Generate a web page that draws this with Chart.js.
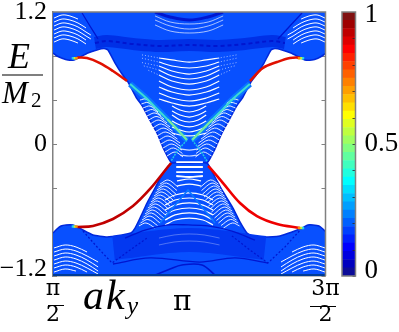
<!DOCTYPE html>
<html>
<head>
<meta charset="utf-8">
<script src="https://cdn.jsdelivr.net/npm/chart.js@4"></script>
<style>
body { margin: 0; background: #fff; }
#wrap { position: relative; width: 399px; height: 332px; }
canvas { position: absolute; top: 0; }
#bandChart { left: 0; }
#colorBar { left: 300px; }
</style>
</head>
<body>
<div id="wrap">
<canvas id="bandChart" width="399" height="332"></canvas>
<canvas id="colorBar" width="99" height="332"></canvas>
</div>
<script>
// x is a k_y in degrees (90 = pi/2, 270 = 3pi/2), y is E / M2
var xTicks = [90, 180, 270];
var yTicks = [-1.2, -0.8, -0.4, 0, 0.4, 0.8, 1.2];
var colorTicks = [0, 0.1, 0.2, 0.3, 0.4, 0.5, 0.6, 0.7, 0.8, 0.9, 1];

// outline of the continuum
var topEdgeX = [90, 92.6, 96, 99.9, 103.9, 107.8, 113, 119, 123.7, 126.3, 131, 135.6, 139.5, 144.8, 149.4, 154, 158.7, 163.1, 168.4, 180, 191.7, 197, 201.6, 206.3, 210.9, 215.5, 220.8, 224.7, 229.4, 234, 236.6, 241.3, 247.2, 252.5, 256.4, 261, 265, 267.7, 270.3];
var topEdgeY = [.827, .8, .78, .764, .764, .79, .827, .855, .868, .855, .736, .636, .564, .427, .336, .218, .1, -.045, -.173, -.173, -.173, -.045, .1, .218, .336, .427, .564, .636, .736, .855, .868, .855, .827, .79, .764, .764, .78, .8, .827];
var bottomEdgeX = [90, 92.6, 95.3, 98.6, 103.2, 106.5, 109.8, 116.4, 125.7, 135.6, 141.5, 144.2, 147.5, 152.1, 157.4, 162, 168.6, 180, 191.7, 197, 201.6, 208.9, 213.5, 218.1, 221.4, 228.7, 239.9, 247.9, 254.5, 258.4, 261.7, 265.7, 268.3, 270.3];
var bottomEdgeY = [-.809, -.773, -.745, -.736, -.736, -.755, -.782, -.827, -.845, -.827, -.809, -.764, -.673, -.536, -.4, -.282, -.173, -.173, -.173, -.3, -.418, -.582, -.709, -.809, -.836, -.845, -.836, -.8, -.764, -.736, -.736, -.745, -.773, -.8];

// edge states
var edgeTopLeftX = [105.9, 112.5, 121, 129.6, 138.9];
var edgeTopLeftY = [.786, .782, .736, .664, .573];
var edgeTopRightX = [220.1, 228.7, 238, 246.5, 253.1];
var edgeTopRightY = [.573, .691, .745, .782, .786];
var edgeBottomLeftX = [105.9, 116.4, 129.6, 142.8, 154.1, 165.3, 168];
var edgeBottomLeftY = [-.755, -.745, -.682, -.564, -.409, -.218, -.173];
var edgeBottomRightX = [192.4, 193.7, 202.3, 213.5, 224.7, 238, 253.1];
var edgeBottomRightY = [-.2, -.218, -.355, -.536, -.655, -.727, -.764];
var onsetX = [103.2, 104.5, 105.5, 255.1, 253.8, 252.5, 103.2, 104.5, 105.5, 255.1, 253.8, 252.5];
var onsetY = [.78, .78, .78, .78, .78, .78, -.75, -.75, -.75, -.764, -.764, -.764];
var onsetColors = ['#20d0f0', '#c0f040', '#ff9000', '#20d0f0', '#c0f040', '#ff9000', '#20d0f0', '#c0f040', '#ff9000', '#20d0f0', '#c0f040', '#ff9000'];

// white gaps between the bulk bands, one list per corner or wedge
var cornerTopLeftX = [90.7, 96, 101.2, 106.5, 111.8, 115];
var cornerTopRight_X = [269.7, 264.4, 259.1, 253.9, 248.6, 245];
var cornerTopRows = [
  [1.145, 1.173, 1.164, 1.136],
  [1.109, 1.136, 1.127, 1.1, 1.055],
  [1.073, 1.1, 1.091, 1.064, 1.018, .991],
  [1.036, 1.064, 1.055, 1.027, .982, .955],
  [1, 1.027, 1.018, .991, .945],
  [.964, .991, .982, .955, .909],
  [.927, .955, .945, .918]
];
var cornerBottomLeftX = [90.7, 98, 105.2, 112.5, 119.8, 127];
var cornerBottomRightX = [269.7, 262.4, 255.2, 247.9, 240.6, 233.3];
var cornerBottomRows = [
  [-.945, -.918, -.936, -.982],
  [-.982, -.955, -.973, -1.018, -1.073],
  [-1.018, -.991, -1.009, -1.055, -1.118],
  [-1.055, -1.027, -1.045, -1.091, -1.155],
  [-1.091, -1.064, -1.082, -1.127, -1.182],
  [-1.127, -1.1, -1.118, -1.164],
  [-1.164, -1.136, -1.155]
];
var faintTopX = [157.4, 167.4, 180, 192.5, 202.4];
var faintTopRows = [
  [1.164, 1.109, 1.091, 1.109, 1.164],
  [1.127, 1.073, 1.045, 1.073, 1.127],
  [1.082, 1.027, 1.009, 1.027, 1.082]
];
var coneTopX = [160, 168.6, 180, 191.2, 199.8];
var coneTopRows = [
  [.782, .764, .745, .764, .782],
  [.745, .709, .691, .709, .745],
  [.709, .664, .636, .664, .709],
  [.673, .618, .591, .618, .673],
  [.627, .573, .545, .573, .627],
  [.573, .518, .491, .518, .573],
  [.518, .473, .445, .473, .518],
  [.464, .418, .391, .418, .464],
  [.409, .373, .345, .373, .409]
];
// x, y, x, y: dotted continuation of the top rows towards the cone walls
var shoulders = [
  [148.8, .81, 160, .782], [148.8, .78, 160, .745], [148.8, .74, 160, .709], [150, .71, 160, .673], [153, .67, 160, .627],
  [211.2, .81, 199.8, .782], [211.2, .78, 199.8, .745], [211.2, .74, 199.8, .709], [210, .71, 199.8, .673], [207, .67, 199.8, .627]
];
var coneMidX = [168.6, 173.9, 180, 185.9, 191.2];
var coneMidRows = [
  [.345, .309, .291, .309, .345],
  [.3, .264, .245, .264, .3],
  [.264, .218, .2, .218, .264],
  [.209, .173, .155, .173, .209],
  [.155, .127, .109, .127, .155],
  [.1, .082, .073, .082, .1]
];
var neckX = [171.4, 180, 189];
var neckRows = [[-.164, -.164, -.164], [-.209, -.209, -.209], [-.255, -.255, -.255], [-.291, -.3, -.291]];
var rhombusX = [174, 180, 185.9];
var rhombusRows = [[-.045, -.055, -.045], [-.1, -.109, -.1]];
var bottomNarrowX = [171.9, 180, 187.8];
var bottomNarrowRows = [[-.336, -.318, -.336], [-.382, -.364, -.382]];
var coneBottomX = [164, 170.6, 180, 189.1, 195.7];
var coneBottomRows = [
  [-.509, -.464, -.445, -.464, -.509],
  [-.555, -.509, -.491, -.509, -.555],
  [-.6, -.555, -.536, -.555, -.6],
  [-.645, -.6, -.582, -.6, -.645],
  [-.691, -.645, -.627, -.645, -.691],
  [-.736, -.691, -.673, -.691, -.736]
];
var faintBottomX = [160, 170, 180, 190, 200];
var faintBottomRows = [
  [-.855, -.827, -.818, -.827, -.855],
  [-.918, -.891, -.882, -.891, -.918]
];
// x, y, x, y, x, y
var wedgeTopLeft = [
  [147.5, .4, 151.4, .409, 155.4, .364],
  [148.4, .364, 152.7, .377, 157.4, .327],
  [149.4, .327, 154.1, .345, 159.4, .291],
  [150.7, .291, 155.7, .313, 161.3, .259],
  [152.1, .255, 157.4, .282, 163.3, .227],
  [153.1, .218, 158.7, .25, 165.3, .191],
  [154.1, .182, 160, .218, 167.3, .155],
  [155.7, .145, 161.6, .182, 169, .118],
  [157.4, .109, 163.3, .145, 170.6, .082],
  [158.7, .073, 164.6, .109, 172.2, .045],
  [160, .036, 166, .073, 173.9, .009],
  [161.3, 0, 167.3, .036, 174.5, -.023],
  [162.7, -.036, 168.6, 0, 175.2, -.055],
  [164, -.073, 169.6, -.036, 175.5, -.086],
  [165.3, -.109, 170.6, -.073, 175.9, -.118]
];
var wedgeTopRight = [
  [212.5, .4, 208.6, .409, 204.6, .364],
  [211.6, .364, 207.3, .377, 202.6, .327],
  [210.6, .327, 205.9, .345, 200.6, .291],
  [209.3, .291, 204.3, .313, 198.7, .259],
  [207.9, .255, 202.6, .282, 196.7, .227],
  [206.9, .218, 201.3, .25, 194.7, .191],
  [205.9, .182, 200, .218, 192.7, .155],
  [204.3, .145, 198.4, .182, 191, .118],
  [202.6, .109, 196.7, .145, 189.4, .082],
  [201.3, .073, 195.4, .109, 187.8, .045],
  [200, .036, 194, .073, 186.1, .009],
  [198.7, 0, 192.7, .036, 185.5, -.023],
  [197.3, -.036, 191.4, 0, 184.8, -.055],
  [196, -.073, 190.4, -.036, 184.5, -.086],
  [194.7, -.109, 189.4, -.073, 184.1, -.118]
];
var wedgeBottomLeft = [
  [160.7, -.364, 166, -.327, 172.6, -.391],
  [159.7, -.391, 165, -.355, 171.9, -.423],
  [158.7, -.418, 164, -.382, 171.2, -.455],
  [157.7, -.445, 163, -.409, 170.2, -.482],
  [156.7, -.473, 162, -.436, 169.3, -.509],
  [155.7, -.5, 161, -.464, 168.3, -.536],
  [154.7, -.527, 160, -.491, 167.3, -.564],
  [153.7, -.555, 159, -.518, 166.3, -.591],
  [152.7, -.582, 158, -.545, 165.3, -.618],
  [151.7, -.609, 157, -.573, 164.3, -.645],
  [150.8, -.636, 156, -.6, 163.3, -.673],
  [149.8, -.664, 155, -.627, 162, -.695],
  [148.8, -.691, 154.1, -.655, 160.7, -.718],
  [147.8, -.718, 152.7, -.686, 159, -.741],
  [146.8, -.745, 151.4, -.718, 157.4, -.764]
];
var wedgeBottomRight = [
  [199.3, -.364, 194, -.327, 187.4, -.391],
  [200.3, -.391, 195, -.355, 188.1, -.423],
  [201.3, -.418, 196, -.382, 188.8, -.455],
  [202.3, -.445, 197, -.409, 189.8, -.482],
  [203.3, -.473, 198, -.436, 190.7, -.509],
  [204.3, -.5, 199, -.464, 191.7, -.536],
  [205.3, -.527, 200, -.491, 192.7, -.564],
  [206.3, -.555, 201, -.518, 193.7, -.591],
  [207.3, -.582, 202, -.545, 194.7, -.618],
  [208.3, -.609, 203, -.573, 195.7, -.645],
  [209.2, -.636, 204, -.6, 196.7, -.673],
  [210.2, -.664, 205, -.627, 198, -.695],
  [211.2, -.691, 205.9, -.655, 199.3, -.718],
  [212.2, -.718, 207.3, -.686, 201, -.741],
  [213.2, -.745, 208.6, -.718, 202.6, -.764]
];

// cyan ridges in the cone
var ridgeLeftX = [140.9, 150.8, 160.7, 170.6, 178.5];
var ridgeLeftY = [.545, .427, .291, .155, .036];
var ridgeRightX = [220.1, 210.2, 200.3, 190.4, 181.9];
var ridgeRightY = [.545, .427, .291, .155, .036];
var greenLeftX = [165.7, 170.6, 178.5];
var greenRightX = [195.3, 190.4, 181.9];
var greenY = [.223, .155, .036];
var diamondLeftX = [178.5, 172.6, 168];
var diamondRightX = [181.9, 187.1, 191.7];
var diamondY = [.036, -.055, -.155];

// darker streaks in the bulk
var streakTopX = [117.7, 125.7, 142.8, 160.7, 180, 199, 216.8, 234.6, 243.2];
var streakTopY = [.918, .936, .909, .891, .9, .891, .909, .936, .918];
var archTopX = [157.4, 167.3, 180, 192.4, 202.3];
var archTopY = [1.2, 1.155, 1.127, 1.155, 1.2];
var slashTopLeftX = [109.2, 114.4, 119.7];
var slashTopRightX = [254.5, 246.5, 238.6];
var slashTopY = [1.191, 1.073, .955];
var ridgeBottomX = [137.6, 150.8, 166, 179.2, 192.4, 208.2, 223.4];
var ridgeBottomY = [-.855, -.782, -.736, -.736, -.745, -.791, -.873];
var shadeBottomX = [130, 180, 230];
var shadeBottomY = [-.945, -.873, -.945];
var slashBottomLeftX = [109.8, 119.7, 129, 140.9, 152.1];
var slashBottomLeftY = [-.791, -.945, -1.082, -.964, -.855];
var slashBottomRightX = [254.5, 243.2, 232, 220.1, 208.2];
var slashBottomRightY = [-.764, -.936, -1.082, -.964, -.836];
var floorX = [129.6, 154.1, 187.1, 210.2, 232];
var floorY = [-1.091, -1.036, -1.073, -1.036, -1.082];
var archBottomX = [157.4, 167.3, 175.2, 188.4, 197];
var archBottomY = [-1.191, -1.136, -1.1, -1.1, -1.191];
var tentX = [160.7, 179.2, 197];
var tentY = [-.718, -.418, -.718];
var baseX = [90, 270];
var baseY = [-1.19, -1.19];

var colorBarColors = ['#0c0c98', '#0000bf', '#0000df', '#0000ff', '#0020ff', '#0040ff', '#0060ff', '#0080ff', '#009fff', '#00bfff', '#00dfff', '#00ffff', '#20ffdf', '#40ffbf', '#60ff9f', '#80ff80', '#9fff60', '#bfff40', '#dfff20', '#ffff00', '#ffdf00', '#ffbf00', '#ff9f00', '#ff8000', '#ff6000', '#ff4000', '#ff2000', '#ff0000', '#df0000', '#bf0000', '#9f0000', '#801010'];

function pts(xs, ys) {
  return xs.map(function (x, i) { return { x: x, y: ys[i] }; }).filter(function (p) { return p.y !== undefined; });
}
function flatPts(row) {
  var out = [];
  for (var i = 0; i < row.length; i += 2) out.push({ x: row[i], y: row[i + 1] });
  return out;
}

var datasets = [];
function addLine(data, color, width, extra) {
  datasets.push(Object.assign({
    data: data, showLine: true, borderColor: color, borderWidth: width,
    pointRadius: 0, tension: 0.35, fill: false
  }, extra || {}));
}
function addRows(xs, rows, color, width) {
  rows.forEach(function (r) { addLine(pts(xs, r), color, width); });
}

var BAND = '#0850ff', EDGE = '#0028dc', DARK = '#0016d0';

addLine(pts(topEdgeX, topEdgeY), EDGE, 1.5, { fill: 'end', backgroundColor: BAND, tension: 0.15 });
addLine(pts(bottomEdgeX, bottomEdgeY), EDGE, 1.5, { fill: 'start', backgroundColor: BAND, tension: 0.15 });

// shading first, then streaks, gaps, ridges and edge states on top
addLine(pts(shadeBottomX, shadeBottomY), '#0338f0', 24);
addLine(pts(streakTopX, streakTopY), '#0030e6', 12);
addLine(pts(streakTopX, streakTopY), DARK, 2, { borderDash: [4, 3] });
addLine(pts(ridgeLeftX, ridgeLeftY), '#0a78ff', 6);
addLine(pts(ridgeRightX, ridgeRightY), '#0a78ff', 6);

addRows(cornerTopLeftX, cornerTopRows, '#ffffff', 1);
addRows(cornerTopRight_X, cornerTopRows, '#ffffff', 1);
addRows(cornerBottomLeftX, cornerBottomRows, '#ffffff', 1);
addRows(cornerBottomRightX, cornerBottomRows, '#ffffff', 1);
addRows(faintTopX, faintTopRows, 'rgba(255,255,255,.65)', 1);
addRows(coneTopX, coneTopRows, '#ffffff', 1.2);
shoulders.forEach(function (r) {
  addLine(flatPts(r), 'rgba(255,255,255,.6)', 1, { borderDash: [1, 2], tension: 0 });
});
addRows(coneMidX, coneMidRows, '#ffffff', 1.2);
addRows(neckX, neckRows, '#ffffff', 1.8);
addRows(rhombusX, rhombusRows, 'rgba(255,255,255,.8)', 1.2);
addRows(bottomNarrowX, bottomNarrowRows, '#ffffff', 1.2);
addRows(coneBottomX, coneBottomRows, '#ffffff', 1.2);
addRows(faintBottomX, faintBottomRows, 'rgba(255,255,255,.3)', 1);
wedgeTopLeft.concat(wedgeTopRight, wedgeBottomLeft, wedgeBottomRight).forEach(function (r) {
  addLine(flatPts(r), 'rgba(255,255,255,.9)', 1);
});

addLine(pts(archTopX, archTopY), DARK, 3);
addLine(pts(slashTopLeftX, slashTopY), DARK, 1.3);
addLine(pts(slashTopRightX, slashTopY), DARK, 1.3);
addLine(pts(ridgeBottomX, ridgeBottomY), DARK, 1.3);
addLine(pts(slashBottomLeftX, slashBottomLeftY), DARK, 1.2, { borderDash: [2, 2], tension: 0 });
addLine(pts(slashBottomRightX, slashBottomRightY), DARK, 1.2, { borderDash: [2, 2], tension: 0 });
addLine(pts(floorX, floorY), DARK, 1.3);
addLine(pts(archBottomX, archBottomY), DARK, 1.6);
addLine(pts(tentX, tentY), '#0a78ff', 1.5, { tension: 0 });
addLine(pts(baseX, baseY), '#003c96', 2, { tension: 0 });

addLine(pts(ridgeLeftX, ridgeLeftY), '#3cdcd2', 2);
addLine(pts(ridgeRightX, ridgeRightY), '#3cdcd2', 2);
addLine(pts(greenLeftX, greenY), '#78e89a', 2);
addLine(pts(greenRightX, greenY), '#78e89a', 2);
addLine(pts(diamondLeftX, diamondY), '#20c8e6', 1.5, { borderDash: [2, 1] });
addLine(pts(diamondRightX, diamondY), '#20c8e6', 1.5, { borderDash: [2, 1] });

addLine(pts(edgeTopLeftX, edgeTopLeftY), '#e01000', 2.6);
addLine(pts(edgeTopRightX, edgeTopRightY), '#e01000', 2.6);
addLine(pts(edgeBottomLeftX, edgeBottomLeftY), '#c00000', 2.6);
addLine(pts(edgeBottomRightX, edgeBottomRightY), '#ee0000', 2.6);
datasets.push({
  data: pts(onsetX, onsetY), showLine: false, pointStyle: 'rect', pointRadius: 1.8,
  pointBackgroundColor: onsetColors, pointBorderWidth: 0
});

// first dataset is painted last in Chart.js, so flip the list
datasets.reverse();

var mathFont = '"Liberation Serif", "DejaVu Serif", serif';
var AXIS_GREY = '#808080';

// inward tick marks, frame, fraction bars and the two math labels
var mathLabels = {
  id: 'mathLabels',
  beforeDatasetsDraw: function (chart) {
    var c = chart.ctx, a = chart.chartArea, y = chart.scales.y;
    c.save();
    c.strokeStyle = AXIS_GREY;
    c.lineWidth = 1;
    yTicks.forEach(function (t) {
      var p = Math.round(y.getPixelForValue(t)) + 0.5;
      c.beginPath();
      c.moveTo(a.left, p); c.lineTo(a.left + 4, p);
      c.moveTo(a.right, p); c.lineTo(a.right - 4, p);
      c.stroke();
    });
    c.restore();
  },
  afterDraw: function (chart) {
    var c = chart.ctx, a = chart.chartArea;
    c.save();
    c.strokeStyle = AXIS_GREY;
    c.lineWidth = 1.5;
    c.beginPath();
    c.moveTo(a.left, a.top); c.lineTo(a.right, a.top); c.lineTo(a.right, a.bottom);
    c.stroke();
    c.fillStyle = '#000';
    c.strokeStyle = '#000';
    c.lineWidth = 1.2;
    c.beginPath();
    c.moveTo(2, 75); c.lineTo(43, 75);
    c.moveTo(48, 305.5); c.lineTo(64, 305.5);
    c.moveTo(310, 306.5); c.lineTo(336, 306.5);
    c.stroke();
    c.textBaseline = 'alphabetic';
    c.textAlign = 'left';
    c.font = 'italic 36px ' + mathFont;
    c.fillText('E', 8, 68);
    c.font = 'italic 31px ' + mathFont;
    c.fillText('M', 2, 103);
    c.font = '21px ' + mathFont;
    c.fillText('2', 31, 107);
    c.font = 'italic 42px ' + mathFont;
    c.fillText('a', 83, 309);
    c.fillText('k', 106, 309);
    c.font = 'italic 25px ' + mathFont;
    c.fillText('y', 127, 314);
    c.restore();
  }
};

new Chart(document.getElementById('bandChart'), {
  type: 'scatter',
  data: { datasets: datasets },
  plugins: [mathLabels],
  options: {
    responsive: false,
    animation: false,
    layout: { padding: { top: 12, right: 73.5, left: 0, bottom: 0 } },
    plugins: { legend: { display: false }, tooltip: { enabled: false } },
    scales: {
      x: {
        type: 'linear', min: 90, max: 270,
        afterFit: function (s) { s.height = 56; s.paddingLeft = 0; s.paddingRight = 0; },
        afterBuildTicks: function (s) { s.ticks = xTicks.map(function (v) { return { value: v }; }); },
        grid: { display: false, drawTicks: false },
        border: { color: AXIS_GREY, width: 1.5 },
        ticks: {
          autoSkip: false, maxRotation: 0, padding: 7, color: '#000',
          font: function (ctx) {
            return { family: '"DejaVu Serif", serif', size: ctx.tick && ctx.tick.value === 180 ? 28 : 22, lineHeight: '13px' };
          },
          callback: function (v) {
            if (v === 90) return ['\u03c0', '', '2'];
            if (v === 180) return ['', '\u03c0\u2002'];
            return ['3\u03c0', '', '2'];
          }
        }
      },
      y: {
        min: -1.2, max: 1.2,
        afterFit: function (s) { s.width = 53; s.paddingTop = 0; s.paddingBottom = 0; },
        afterBuildTicks: function (s) { s.ticks = yTicks.map(function (v) { return { value: v }; }); },
        grid: { display: false, drawTicks: false },
        border: { color: AXIS_GREY, width: 1.5 },
        ticks: {
          autoSkip: false, padding: 6, color: '#000',
          font: { family: mathFont, size: 26, lineHeight: '14px' },
          callback: function (v) {
            if (v === 1.2) return '1.2';
            if (v === 0) return '0';
            // extra empty line lifts the label above the axis end
            if (v === -1.2) return ['\u22121.2', ''];
            return '';
          }
        }
      }
    }
  }
});

var colorBarTicksPlugin = {
  id: 'colorBarTicks',
  afterDatasetsDraw: function (chart) {
    var c = chart.ctx, a = chart.chartArea, y = chart.scales.y;
    c.save();
    c.strokeStyle = 'rgba(40,40,40,.8)';
    c.lineWidth = 1;
    colorTicks.forEach(function (t) {
      var p = Math.round(y.getPixelForValue(t)) + 0.5;
      c.beginPath(); c.moveTo(a.right, p); c.lineTo(a.right - 3, p); c.stroke();
    });
    c.strokeStyle = AXIS_GREY;
    c.lineWidth = 1.5;
    c.strokeRect(a.left, a.top, a.right - a.left, a.bottom - a.top);
    c.restore();
  }
};

new Chart(document.getElementById('colorBar'), {
  type: 'bar',
  data: {
    labels: [''],
    datasets: colorBarColors.map(function (col) {
      return { data: [1 / colorBarColors.length], backgroundColor: col, barPercentage: 1, categoryPercentage: 1, borderWidth: 0 };
    })
  },
  plugins: [colorBarTicksPlugin],
  options: {
    responsive: false,
    animation: false,
    layout: { padding: { top: 12, left: 42, right: 0.5, bottom: 56 } },
    plugins: { legend: { display: false }, tooltip: { enabled: false } },
    scales: {
      x: { stacked: true, display: false },
      y: {
        stacked: true, position: 'right', min: 0, max: 1,
        afterFit: function (s) { s.width = 43; s.paddingTop = 0; s.paddingBottom = 0; },
        afterBuildTicks: function (s) { s.ticks = colorTicks.map(function (v) { return { value: v }; }); },
        grid: { display: false, drawTicks: false },
        border: { display: false },
        ticks: {
          autoSkip: false, padding: 9, color: '#000',
          font: { family: mathFont, size: 27, lineHeight: '5px' },
          callback: function (v) {
            if (v === 1) return ['', '1'];
            if (v === 0.5) return '0.5';
            if (v === 0) return ['0', '', ''];
            return '';
          }
        }
      }
    }
  }
});
</script>
</body>
</html>
